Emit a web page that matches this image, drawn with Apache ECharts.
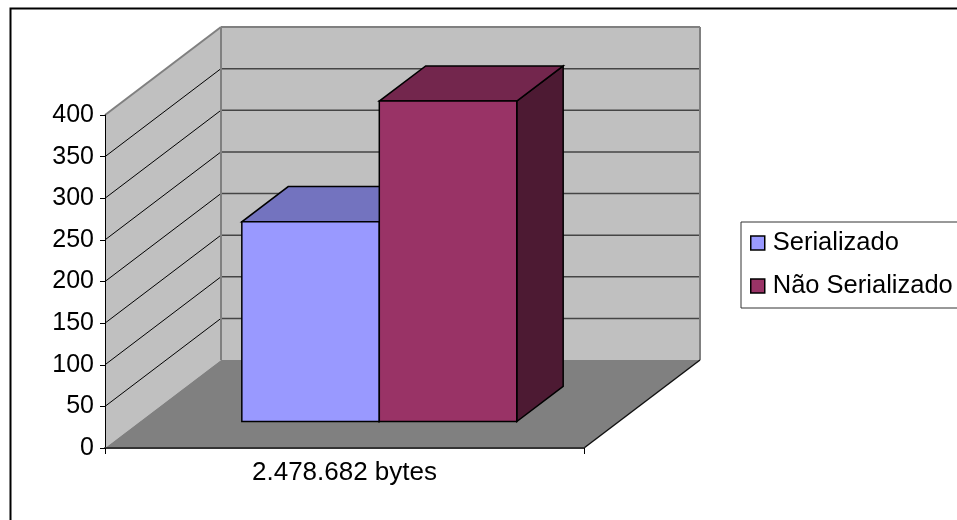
<!DOCTYPE html>
<html>
<head>
<meta charset="utf-8">
<script src="https://cdn.jsdelivr.net/npm/echarts@6/dist/echarts.min.js"></script>
<style>html,body{margin:0;padding:0;background:#fff}#c{width:957px;height:520px}</style>
</head>
<body>
<div id="c"></div>
<script>
// ---- data ----
const categories = ['2.478.682 bytes'];
const seriesNames = ['Serializado', 'Não Serializado'];
const serializado = [240];
const naoSerializado = [385];
const yTicks = [0, 50, 100, 150, 200, 250, 300, 350, 400];

// ---- style ----
const FONT = "'Liberation Sans', Arial, sans-serif";
const DX = 116, DY = -88;          // full depth of the 3D box (pixels)
const F0 = 0.30, FD = 0.40;        // bar front plane and bar depth (fraction of box depth)
const BAR_FRAC = 0.287;            // bar width as fraction of category band
const faceColors = [
  { front: '#9999ff', top: '#7373bf', side: '#4d4d80' },
  { front: '#993366', top: '#73264d', side: '#4d1a33' }
];

function wallsRender(params, api) {
  const cs = params.coordSys;
  const x0 = cs.x, x1 = cs.x + cs.width, yt = cs.y, yb = cs.y + cs.height;
  const ch = [];
  const poly = (pts, fill) => ch.push({ type: 'polygon', shape: { points: pts }, style: { fill: fill, stroke: null } });
  const line = (a, b, c, w) => ch.push({ type: 'line', shape: { x1: a[0], y1: a[1], x2: b[0], y2: b[1] }, style: { stroke: c, lineWidth: w } });
  poly([[x0 + DX, yt + DY], [x1 + DX, yt + DY], [x1 + DX, yb + DY], [x0 + DX, yb + DY]], '#c0c0c0');
  poly([[x0, yt], [x0 + DX, yt + DY], [x0 + DX, yb + DY], [x0, yb]], '#c0c0c0');
  poly([[x0, yb], [x1, yb], [x1 + DX, yb + DY], [x0 + DX, yb + DY]], '#808080');
  const vmax = yTicks[yTicks.length - 1];
  yTicks.forEach(v => {
    if (v === 0 || v === vmax) return;
    const y = api.coord([0, v])[1];
    line([x0 + DX, y + DY], [x1 + DX, y + DY], '#454545', 1.5);
    line([x0, y], [x0 + DX, y + DY], '#000', 1);
  });
  line([x0, yt], [x0 + DX, yt + DY], '#808080', 2);
  line([x0 + DX, yt + DY], [x1 + DX, yt + DY], '#808080', 2);
  line([x1 + DX, yt + DY], [x1 + DX, yb + DY], '#808080', 2);
  line([x0 + DX, yt + DY], [x0 + DX, yb + DY], '#808080', 2);
  line([x1, yb], [x1 + DX, yb + DY], '#111', 1.5);
  return { type: 'group', children: ch };
}

function makeBarRender(idx, n) {
  return function (params, api) {
    const cat = api.value(0);
    const base = api.coord([cat, 0]);
    const top = api.coord([cat, api.value(1)]);
    const band = api.size([1, 0])[0];
    const w = band * BAR_FRAC;
    const left = base[0] - n * w / 2 + idx * w + DX * F0;
    const right = left + w;
    const yT = top[1] + DY * F0, yB = base[1] + DY * F0;
    const ddx = DX * FD, ddy = DY * FD;
    const c = faceColors[idx];
    const st = (f) => ({ fill: f, stroke: '#000', lineWidth: 1.5, lineJoin: 'miter' });
    return {
      type: 'group',
      children: [
        { type: 'polygon', shape: { points: [[right, yT], [right + ddx, yT + ddy], [right + ddx, yB + ddy], [right, yB]] }, style: st(c.side) },
        { type: 'polygon', shape: { points: [[left, yT], [right, yT], [right + ddx, yT + ddy], [left + ddx, yT + ddy]] }, style: st(c.top) },
        { type: 'rect', shape: { x: left, y: yT, width: w, height: yB - yT }, style: st(c.front) }
      ]
    };
  };
}

const valuesList = [serializado, naoSerializado];
const chart = echarts.init(document.getElementById('c'), null, { renderer: 'canvas' });
const option = {
  animation: false,
  textStyle: { fontFamily: FONT },
  graphic: [{
    type: 'rect', left: 8, top: 6, z: 100,
    shape: { x: 0, y: 0, width: 1000, height: 600 },
    style: { fill: null, stroke: '#000', lineWidth: 2 }
  }],
  grid: { left: 105, right: 373, top: 115, bottom: 72 },
  xAxis: {
    type: 'category', data: categories, boundaryGap: true,
    axisLine: { show: true, lineStyle: { color: '#333', width: 2 } },
    axisTick: { show: true, length: 6, lineStyle: { color: '#000', width: 1 } },
    axisLabel: { fontSize: 26, color: '#000', margin: 12, fontFamily: FONT },
    splitLine: { show: false }
  },
  yAxis: {
    type: 'value', min: yTicks[0], max: yTicks[yTicks.length - 1], interval: yTicks[1] - yTicks[0],
    axisLine: { show: true, lineStyle: { color: '#000', width: 1 } },
    axisTick: { show: true, length: 5, lineStyle: { color: '#000' } },
    axisLabel: { fontSize: 25, color: '#000', margin: 11, fontFamily: FONT },
    splitLine: { show: false }
  },
  legend: {
    orient: 'vertical', left: 741, top: 222,
    padding: [8, 14, 9, 9], itemGap: 17,
    itemWidth: 14, itemHeight: 14, icon: 'rect',
    backgroundColor: '#fff', borderColor: '#333', borderWidth: 1,
    itemStyle: { borderColor: '#000', borderWidth: 1.5 },
    textStyle: { fontSize: 25.5, color: '#000', fontFamily: FONT, padding: [0, 0, 0, 3] },
    data: seriesNames
  },
  series: [
    { type: 'custom', name: '_walls', z: -1, silent: true, renderItem: wallsRender, data: [[0, 0]] }
  ].concat(seriesNames.map((name, i) => ({
    type: 'custom', name: name, z: 2,
    itemStyle: { color: faceColors[i].front },
    renderItem: makeBarRender(i, seriesNames.length),
    data: categories.map((c, k) => [k, valuesList[i][k]])
  })))
};
chart.setOption(option);
</script>
</body>
</html>
